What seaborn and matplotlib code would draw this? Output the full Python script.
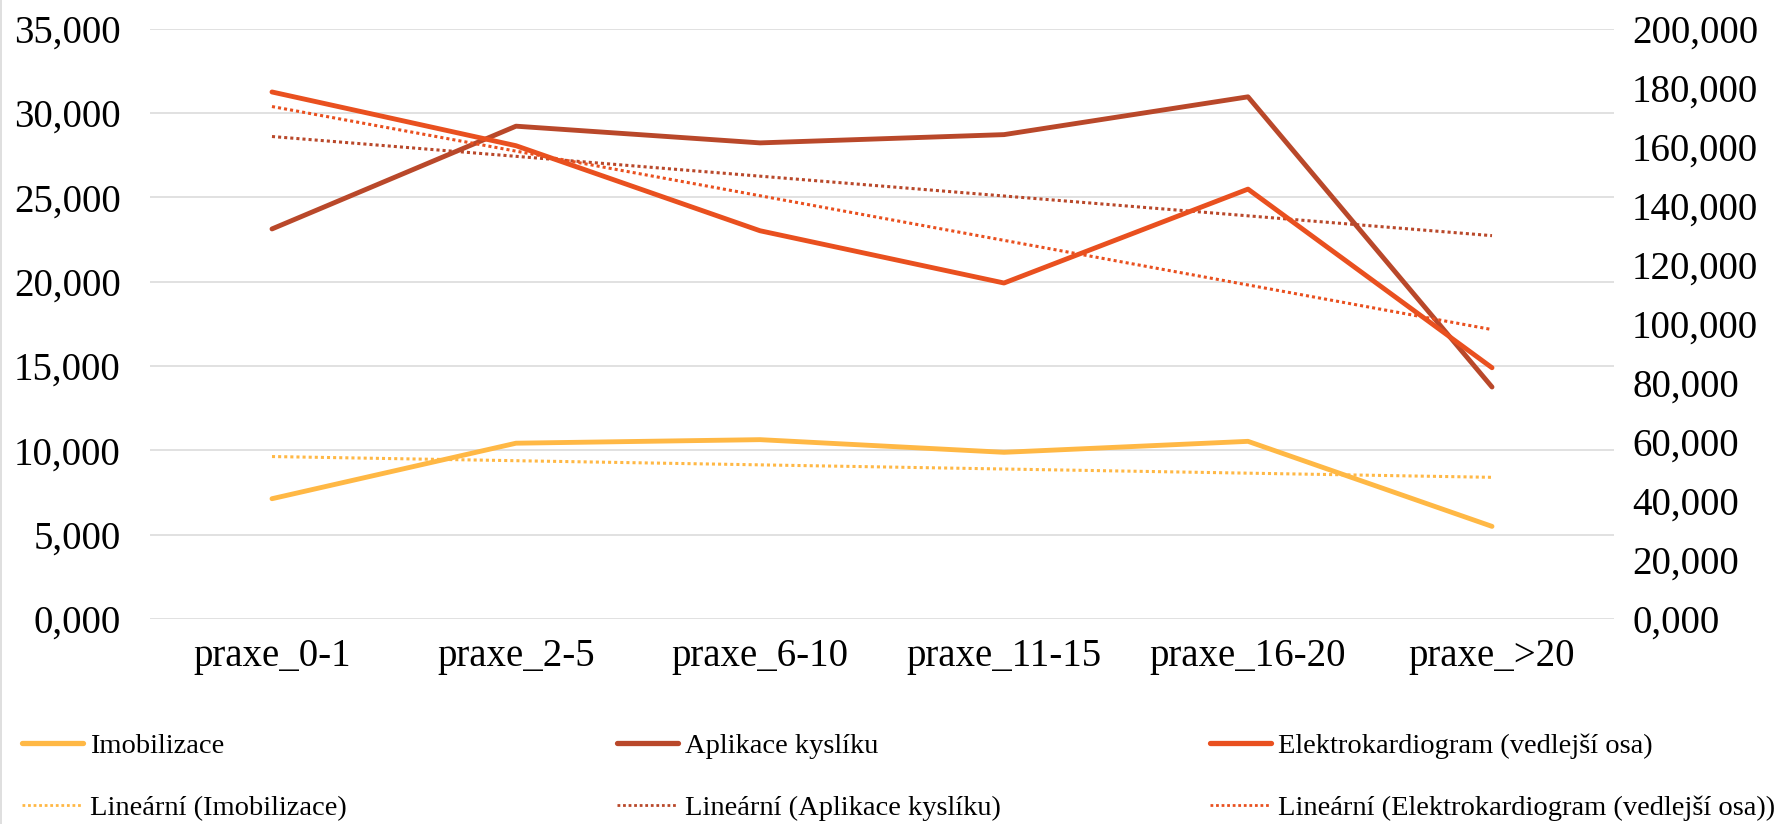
import numpy as np
import pandas as pd
import matplotlib
matplotlib.use("Agg")
import matplotlib.pyplot as plt
from matplotlib.lines import Line2D
import seaborn as sns

# data
categories = ["praxe_0-1", "praxe_2-5", "praxe_6-10", "praxe_11-15", "praxe_16-20", "praxe_>20"]
imobilizace = [7.13, 10.42, 10.63, 9.88, 10.53, 5.49]
aplikace_kysliku = [23.12, 29.21, 28.22, 28.71, 30.95, 13.75]
elektrokardiogram = [178.5, 160.3, 131.5, 113.8, 145.6, 85.1]   # vedlejsi osa

left_ticks = [0, 5, 10, 15, 20, 25, 30, 35]
right_ticks = [0, 20, 40, 60, 80, 100, 120, 140, 160, 180, 200]

labels = ["Imobilizace", "Aplikace kyslíku", "Elektrokardiogram (vedlejší osa)"]
colors = ["#FFB845", "#B9482A", "#E9501F"]

sns.set_theme(style="white")
plt.rcParams['font.family'] = ['Liberation Serif', 'DejaVu Serif']
plt.rcParams['text.color'] = 'black'

pos = np.arange(len(categories))
df = pd.DataFrame({"pos": pos, "imo": imobilizace, "apl": aplikace_kysliku, "ekg": elektrokardiogram})

# linear trendlines like Excel's "Lineární"
def trend(vals):
    k, q = np.polyfit(pos, vals, 1)
    return k * pos + q

df["imo_t"] = trend(imobilizace)
df["apl_t"] = trend(aplikace_kysliku)
df["ekg_t"] = trend(elektrokardiogram)

fig = plt.figure(figsize=(17.78, 8.24), dpi=100)
ax = fig.add_axes([150/1778, 1 - 619/824, (1614 - 150)/1778, (619 - 28.5)/824])
ax2 = ax.twinx()

lw = 3.5
dot = (0, (1, 1))
sns.lineplot(data=df, x="pos", y="imo", ax=ax, color=colors[0], lw=lw, zorder=3)
sns.lineplot(data=df, x="pos", y="apl", ax=ax, color=colors[1], lw=lw, zorder=3)
sns.lineplot(data=df, x="pos", y="imo_t", ax=ax, color=colors[0], lw=2.2, ls=dot, zorder=2)
sns.lineplot(data=df, x="pos", y="apl_t", ax=ax, color=colors[1], lw=2.2, ls=dot, zorder=2)
sns.lineplot(data=df, x="pos", y="ekg", ax=ax2, color=colors[2], lw=lw, zorder=3)
sns.lineplot(data=df, x="pos", y="ekg_t", ax=ax2, color=colors[2], lw=2.2, ls=dot, zorder=2)

fmt = lambda v: f"{v:.3f}".replace(".", ",")
ax.set_ylim(0, 35)
ax.set_yticks(left_ticks)
ax.set_yticklabels([fmt(v) for v in left_ticks])
ax2.set_ylim(0, 200)
ax2.set_yticks(right_ticks)
ax2.set_yticklabels([fmt(v) for v in right_ticks])
ax.set_xlim(-0.5, len(categories) - 0.5)
ax.set_xticks(pos)
ax.set_xticklabels(categories)

for a in (ax, ax2):
    a.set_xlabel("")
    a.set_ylabel("")
    for s in a.spines.values():
        s.set_visible(False)
    a.tick_params(length=0, labelsize=28, colors="black")
ax.tick_params(axis="y", pad=21)
ax2.tick_params(axis="y", pad=13)
ax.tick_params(axis="x", pad=14)
ax.grid(axis="y", color="#D9D9D9", lw=1.1)
ax2.grid(False)
ax.set_axisbelow(True)

# legend: three columns, solid line on top, trendline below
for i, x0 in enumerate([29, 624, 1217]):
    hs = [Line2D([], [], color=colors[i], lw=3.8),
          Line2D([], [], color=colors[i], lw=2.0, ls=dot)]
    fig.legend(handles=hs, labels=[labels[i], "Lineární (" + labels[i] + ")"],
               loc="upper left", bbox_to_anchor=(x0/1778 - 0.004, 1 - 733/824),
               frameon=False, fontsize=20.5, handlelength=2.15, handletextpad=0.25,
               labelspacing=1.28, borderpad=0, borderaxespad=0, labelcolor="black")

# light chart border on the left edge
fig.add_artist(Line2D([0.0006, 0.0006], [0, 1], color="#D9D9D9", lw=1.2, transform=fig.transFigure))

fig.savefig("out.png", dpi=100)
